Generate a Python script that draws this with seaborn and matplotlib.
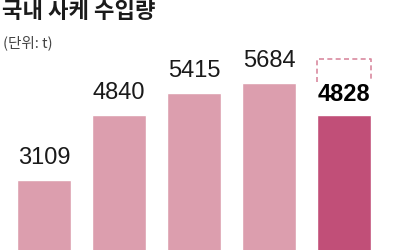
import matplotlib
matplotlib.use("Agg")
import matplotlib.pyplot as plt
import seaborn as sns
import pandas as pd

# Data
categories = ["1", "2", "3", "4", "5"]
values = [3109, 4840, 5415, 5684, 4828]
highlight = [False, False, False, False, True]
dashed_range = [5700, 6320]  # dashed outline above the last bar

title = "국내 사케 수입량"
subtitle = "(단위: t)"

light = "#DC9EAE"
dark = "#C14F78"
dash_color = "#D98AA0"

sns.set_theme(style="white")
plt.rcParams["font.family"] = ["Noto Sans CJK KR", "DejaVu Sans"]

df = pd.DataFrame({"cat": categories, "val": values})
palette = {c: (dark if h else light) for c, h in zip(categories, highlight)}

fig = plt.figure(figsize=(4, 2.5), dpi=100)
ax = fig.add_axes([0, 0, 1, 1])
sns.barplot(data=df, x="cat", y="val", hue="cat", palette=palette,
            legend=False, width=0.72, saturation=1, ax=ax)

ax.set_xlim(-44 / 75, (400 - 44) / 75)
ax.set_ylim(1250, 7887)
ax.axis("off")

for i, (v, h) in enumerate(zip(values, highlight)):
    ax.annotate(f"{v}", (i, v), xytext=(0, 7 if h else 8), textcoords="offset points",
                ha="center", va="bottom", fontsize=17,
                family=["Liberation Sans", "DejaVu Sans"],
                fontweight="bold" if h else "normal",
                color="#000000" if h else "#1a1a1a")

# dashed outline above highlighted bar
bar = ax.patches[len(values) - 1]
x0, x1 = bar.get_x(), bar.get_x() + bar.get_width()
lo, hi = dashed_range
ax.plot([x0, x0, x1, x1], [lo, hi, hi, lo], ls=(0, (3, 2)), lw=1.2,
        color=dash_color, solid_capstyle="butt")

fig.text(2 / 400, 1 - 0.5 / 250, title, ha="left", va="top", fontsize=16,
         fontweight="bold", color="#1a1a1a")
fig.text(3 / 400, 1 - 35 / 250, subtitle, ha="left", va="top", fontsize=10.5,
         color="#444444")

fig.savefig("out.png", dpi=100)
